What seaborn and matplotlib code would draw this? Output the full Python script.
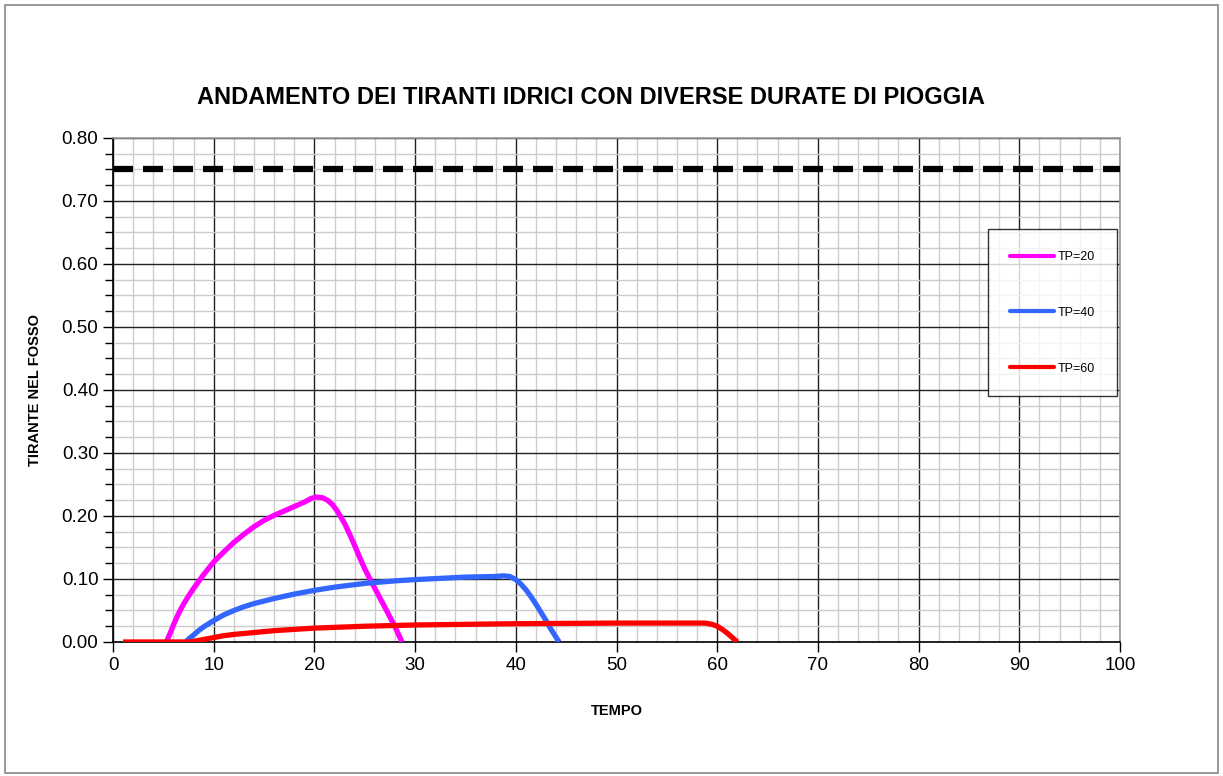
import matplotlib
matplotlib.use("Agg")
import matplotlib.pyplot as plt
import seaborn as sns
import pandas as pd
from matplotlib.ticker import MultipleLocator
from matplotlib.lines import Line2D
from matplotlib.patches import Rectangle

# Data
t20 = [5.3, 5.7, 6, 6.5, 7, 7.5, 8, 9, 10, 11, 12, 13, 14, 15, 16, 17, 18, 19, 19.7, 20.2,
       20.8, 21.3, 21.8, 22.3, 23, 23.5, 24, 24.5, 25, 26, 27, 28, 28.7]
h20 = [0.0, 0.015, 0.027, 0.045, 0.06, 0.073, 0.085, 0.107, 0.127, 0.143, 0.158, 0.171, 0.183,
       0.193, 0.201, 0.208, 0.215, 0.222, 0.228, 0.23, 0.229, 0.225, 0.218, 0.207, 0.188, 0.171,
       0.153, 0.134, 0.116, 0.085, 0.055, 0.024, 0.0]

t40 = [7.2, 7.6, 8, 8.5, 9, 10, 11, 12, 13, 14, 15, 16, 18, 20, 22, 25, 28, 30, 35, 38, 38.8,
       39.4, 40, 40.5, 41, 41.5, 42, 42.5, 43, 43.5, 44.3]
h40 = [0.0, 0.006, 0.011, 0.018, 0.024, 0.034, 0.043, 0.05, 0.056, 0.061, 0.065, 0.069, 0.076,
       0.082, 0.087, 0.093, 0.097, 0.099, 0.103, 0.104, 0.105, 0.104, 0.099, 0.092, 0.083, 0.072,
       0.06, 0.047, 0.034, 0.02, 0.0]

t60 = [1, 7.5, 8, 9, 10, 11, 12, 14, 16, 18, 20, 25, 30, 40, 50, 58.8, 59.5, 60, 60.5, 61, 61.5, 62]
h60 = [0.0, 0.0, 0.001, 0.004, 0.007, 0.01, 0.012, 0.015, 0.018, 0.02, 0.022, 0.025, 0.027,
       0.029, 0.03, 0.03, 0.028, 0.025, 0.02, 0.014, 0.007, 0.0]

limit_level = 0.75
labels = ["TP=20", "TP=40", "TP=60"]
colors = ["#ff00ff", "#3366ff", "#ff0000"]

sns.set_style("white")
plt.rcParams["font.family"] = ["Liberation Sans", "DejaVu Sans"]
plt.rcParams["text.color"] = "black"
plt.rcParams["axes.labelcolor"] = "black"
plt.rcParams["xtick.color"] = "black"
plt.rcParams["ytick.color"] = "black"

fig = plt.figure(figsize=(12.23, 7.76), dpi=100)
ax = fig.add_axes([0.0924, 0.1727, 0.8234, 0.6495])

# outer frame
fig.patches.append(Rectangle((0.004, 0.004), 0.992, 0.99, transform=fig.transFigure,
                             fill=False, edgecolor="#888888", linewidth=1.2))

series = [(t20, h20), (t40, h40), (t60, h60)]
for (t, h), lab, c in zip(series, labels, colors):
    df = pd.DataFrame({"TEMPO": t, "TIRANTE": h})
    sns.lineplot(data=df, x="TEMPO", y="TIRANTE", ax=ax, color=c, linewidth=3.8,
                 label=lab, zorder=4, solid_capstyle="butt", solid_joinstyle="round")

ax.axhline(limit_level, color="black", linewidth=4.5, linestyle=(0, (3.2, 1.6)), zorder=4)

ax.set_xlim(0, 100)
ax.set_ylim(0, 0.8)
ax.xaxis.set_major_locator(MultipleLocator(10))
ax.xaxis.set_minor_locator(MultipleLocator(2))
ax.yaxis.set_major_locator(MultipleLocator(0.1))
ax.yaxis.set_minor_locator(MultipleLocator(0.025))
ax.yaxis.set_major_formatter(plt.FormatStrFormatter("%.2f"))

ax.grid(which="minor", color="#cccccc", linewidth=1.0, zorder=1)
ax.grid(which="major", color="#222222", linewidth=1.0, zorder=2)
ax.set_axisbelow(True)

ax.tick_params(axis="both", which="major", labelsize=13.5, direction="out", length=7,
               width=1, color="black", left=True, bottom=True)
ax.tick_params(axis="y", which="minor", direction="out", length=6, width=1, left=True)
ax.tick_params(axis="x", which="minor", length=0)

for side in ["left", "bottom"]:
    ax.spines[side].set_color("black")
    ax.spines[side].set_linewidth(1.2)
for side in ["top", "right"]:
    ax.spines[side].set_color("#999999")
    ax.spines[side].set_linewidth(1.2)

ax.set_xlabel("TEMPO", fontsize=10.5, fontweight="bold", labelpad=22)
ax.set_ylabel("TIRANTE NEL FOSSO", fontsize=10.5, fontweight="bold", labelpad=14)
fig.text(591 / 1223, 1 - 97 / 776, "ANDAMENTO DEI TIRANTI IDRICI CON DIVERSE DURATE DI PIOGGIA",
         fontsize=17, fontweight="bold", ha="center", va="center")

handles = [Line2D([0], [0], color=c, linewidth=3) for c in colors]
leg = ax.legend(handles, labels, loc="upper left", bbox_to_anchor=(0.869, 0.819),
                fontsize=9, frameon=True, fancybox=False, edgecolor="black",
                labelspacing=3.5, handlelength=3.5, handletextpad=0.3,
                borderpad=1.75, borderaxespad=0)
leg.get_frame().set_linewidth(1.0)
leg.set_zorder(6)

fig.savefig("out.png", dpi=100)
